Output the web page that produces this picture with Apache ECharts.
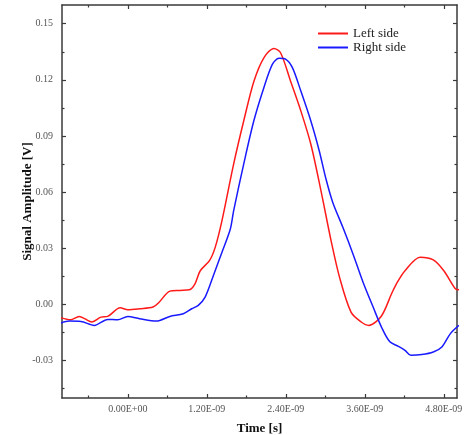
<!DOCTYPE html>
<html><head><meta charset="utf-8">
<script src="https://cdn.jsdelivr.net/npm/echarts@6/dist/echarts.min.js"></script>
<style>html,body{margin:0;padding:0;background:#fff}#c{width:475px;height:435px}</style>
</head><body><div id="c"></div>
<script>
// Time in seconds, amplitude in volts
const leftTime = [-1.02e-9,-0.87e-9,-0.74e-9,-0.545e-9,-0.41e-9,-0.306e-9,-0.116e-9,0,0.179e-9,0.383e-9,0.475e-9,0.638e-9,0.79e-9,0.934e-9,1.02e-9,1.10e-9,1.24e-9,1.327e-9,1.43e-9,1.607e-9,1.76e-9,1.913e-9,2.066e-9,2.22e-9,2.32e-9,2.475e-9,2.628e-9,2.78e-9,2.934e-9,3.087e-9,3.215e-9,3.39e-9,3.546e-9,3.66e-9,3.85e-9,4.006e-9,4.08e-9,4.21e-9,4.44e-9,4.64e-9,4.80e-9,4.975e-9,5.03e-9];
const leftAmp = [-0.0071,-0.0082,-0.0064,-0.0094,-0.0068,-0.0064,-0.0018,-0.0028,-0.0023,-0.0014,0.0012,0.0071,0.0075,0.0078,0.011,0.018,0.0234,0.0305,0.0448,0.075,0.098,0.119,0.1318,0.1368,0.1345,0.119,0.1034,0.0856,0.0607,0.0341,0.0146,-0.0041,-0.0094,-0.0112,-0.0063,0.0057,0.011,0.018,0.0252,0.0238,0.018,0.0084,0.0078];
const rightTime = [-1.02e-9,-0.89e-9,-0.713e-9,-0.51e-9,-0.306e-9,-0.153e-9,0,0.179e-9,0.434e-9,0.638e-9,0.842e-9,0.97e-9,1.07e-9,1.174e-9,1.30e-9,1.43e-9,1.557e-9,1.607e-9,1.76e-9,1.913e-9,2.066e-9,2.195e-9,2.296e-9,2.40e-9,2.50e-9,2.628e-9,2.78e-9,2.908e-9,3.01e-9,3.113e-9,3.266e-9,3.42e-9,3.573e-9,3.726e-9,3.853e-9,3.98e-9,4.11e-9,4.21e-9,4.30e-9,4.465e-9,4.64e-9,4.77e-9,4.90e-9,5.03e-9];
const rightAmp = [-0.010,-0.0089,-0.0091,-0.0112,-0.008,-0.0082,-0.0064,-0.0076,-0.0089,-0.0064,-0.005,-0.0023,-0.0005,0.0039,0.0155,0.0279,0.0403,0.050,0.075,0.098,0.1158,0.1283,0.1315,0.131,0.1265,0.114,0.098,0.082,0.067,0.0545,0.0412,0.027,0.0119,-0.0014,-0.0121,-0.020,-0.0224,-0.0245,-0.0272,-0.0268,-0.0254,-0.0227,-0.0156,-0.0112];
const xMajor = [0, 1.2e-9, 2.4e-9, 3.6e-9, 4.8e-9];
const xMinor = [-0.6e-9, 0.6e-9, 1.8e-9, 3.0e-9, 4.2e-9];
const yMajor = [-0.03, 0, 0.03, 0.06, 0.09, 0.12, 0.15];
const yMinor = [-0.045, -0.015, 0.015, 0.045, 0.075, 0.105, 0.135];
const seriesNames = ['Left side', 'Right side'];

function fmtE(v){
  if (Math.abs(v) < 1e-15) return '0.00E+00';
  let e = Math.floor(Math.log10(Math.abs(v)) + 1e-9);
  let m = v / Math.pow(10, e);
  let s = e < 0 ? '-' : '+';
  let ae = Math.abs(e);
  return m.toFixed(2) + 'E' + s + (ae < 10 ? '0' + ae : ae);
}
const zip = (a,b) => a.map((x,i)=>[x,b[i]]);
const lineC = '#3a3a3a';
const lblFont = {fontFamily:'Liberation Serif', fontSize:10, color:'#555'};
function xAx(pos, ticks, len, showLine, showLabel){
  return {type:'value', position:pos, min:-1.0e-9, max:5.0e-9, gridIndex:0,
    axisLine:{show:showLine, onZero:false, lineStyle:{color:lineC, width:1.5}},
    axisTick:{show:true, inside:true, length:len, customValues:ticks, lineStyle:{color:lineC, width:1.2}},
    axisLabel:{show:showLabel, customValues:ticks, formatter:fmtE, margin:6, ...lblFont},
    splitLine:{show:false}};
}
function yAx(pos, ticks, len, showLine, showLabel){
  return {type:'value', position:pos, min:-0.05, max:0.16, gridIndex:0,
    axisLine:{show:showLine, onZero:false, lineStyle:{color:lineC, width:1.5}},
    axisTick:{show:true, inside:true, length:len, customValues:ticks, lineStyle:{color:lineC, width:1.2}},
    axisLabel:{show:showLabel, customValues:ticks, formatter:v=>v.toFixed(2), margin:9, ...lblFont},
    splitLine:{show:false}};
}
const xs = [xAx('bottom', xMajor, 4, true, true), xAx('bottom', xMinor, 2.5, false, false),
            xAx('top', xMajor, 4, true, false), xAx('top', xMinor, 2.5, false, false)];
xs[0].name = 'Time [s]'; xs[0].nameLocation = 'middle'; xs[0].nameGap = 24;
xs[0].nameTextStyle = {fontFamily:'Liberation Serif', fontWeight:'bold', fontSize:13, color:'#111'};
const ys = [yAx('left', yMajor, 4, true, true), yAx('left', yMinor, 2.5, false, false),
            yAx('right', yMajor, 4, true, false), yAx('right', yMinor, 2.5, false, false)];
ys[0].name = 'Signal Amplitude [V]'; ys[0].nameLocation = 'middle'; ys[0].nameGap = 28; ys[0].nameMoveOverlap = false;
ys[0].nameTextStyle = {fontFamily:'Liberation Serif', fontWeight:'bold', fontSize:13, color:'#111'};

const chart = echarts.init(document.getElementById('c'), null, {renderer:'canvas'});
chart.setOption({
  animation:false,
  backgroundColor:'#fff',
  grid:{left:62, top:5, width:395, height:393, containLabel:false, outerBoundsMode:'none'},
  legend:{orient:'vertical', left:313, top:22, itemWidth:30, itemHeight:2, itemGap:1, icon:'rect',
    textStyle:{fontFamily:'Liberation Serif', fontSize:13, color:'#222', lineHeight:13},
    data:seriesNames},
  xAxis: xs,
  yAxis: ys,
  series:[
    {name:seriesNames[0], type:'line', xAxisIndex:0, yAxisIndex:0, data:zip(leftTime,leftAmp), showSymbol:false, smooth:0.3,
     lineStyle:{color:'#ff1a1a', width:1.5}, itemStyle:{color:'#ff1a1a'}},
    {name:seriesNames[1], type:'line', xAxisIndex:0, yAxisIndex:0, data:zip(rightTime,rightAmp), showSymbol:false, smooth:0.3,
     lineStyle:{color:'#1a1aff', width:1.5}, itemStyle:{color:'#1a1aff'}}
  ]
});
</script></body></html>
